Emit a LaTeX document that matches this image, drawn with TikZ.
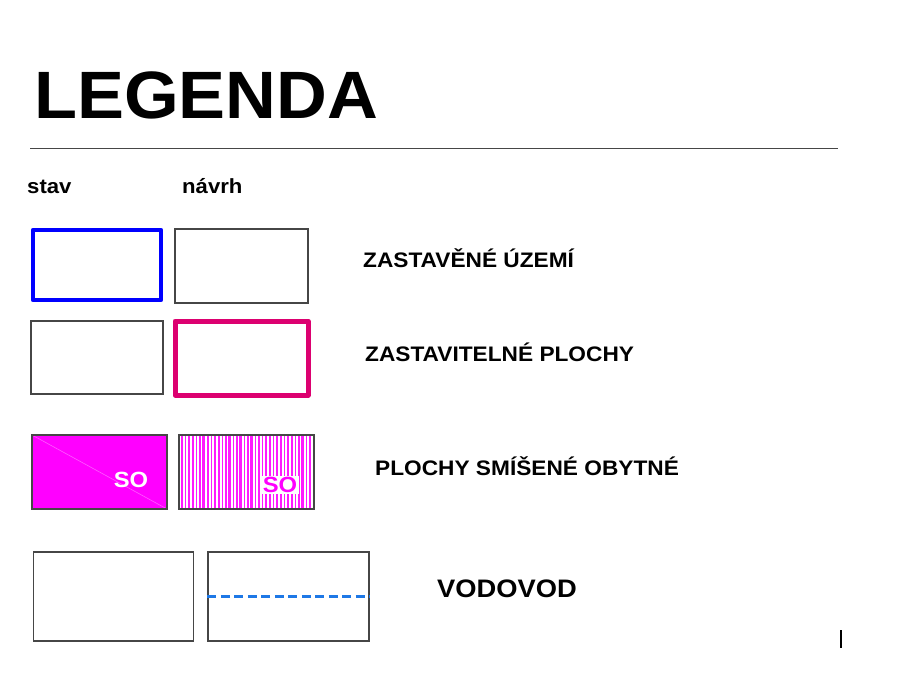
\documentclass[tikz,border=0pt]{standalone}
\usepackage{fontspec}
\setmainfont{Liberation Sans}
\newfontfamily\titlefont{Liberation Sans}[FakeStretch=1.05]
\newfontfamily\labfont{Liberation Sans}[FakeStretch=1.08]
\definecolor{boxgray}{RGB}{70,70,70}
\definecolor{zbblue}{RGB}{0,0,255}
\definecolor{zpmag}{RGB}{220,0,112}
\definecolor{somag}{RGB}{255,0,255}
\definecolor{vodblue}{RGB}{30,120,230}
\begin{document}
\begin{tikzpicture}[x=1pt,y=-1pt,
  thinbox/.style={draw=boxgray,line width=1.1pt},
  thickbox/.style={line width=4.5pt,line join=round},
  lab/.style={anchor=base west,inner sep=0pt,font=\labfont\bfseries\fontsize{21}{24}\selectfont},
  small/.style={anchor=base west,inner sep=0pt,font=\labfont\bfseries\fontsize{20.5}{23}\selectfont}]
\useasboundingbox[fill=white] (0,0) rectangle (912,682);

% title
\node[anchor=base west,inner sep=0pt,font=\titlefont\bfseries\fontsize{67}{70}\selectfont] (title) at (34,119) {LEGENDA};
\coordinate (r1) at (30,148);
\coordinate (r2) at (838,148);
\draw[draw=boxgray,line width=1pt] (r1) -- (r2);

\node[small] (stav) at (27,193) {stav};
\node[small] (navrh) at (182,193) {návrh};

% row 1
\node[thickbox,draw=zbblue,minimum width=128pt,minimum height=70pt,inner sep=0pt] (b1) at (97,265) {};
\node[thinbox,minimum width=133pt,minimum height=74pt,inner sep=0pt] (b2) at (241.5,266) {};
\node[lab] (l1) at (363,267) {ZASTAVĚNÉ ÚZEMÍ};

% row 2
\node[thinbox,minimum width=132pt,minimum height=73pt,inner sep=0pt] (b3) at (97,357.5) {};
\node[thickbox,draw=zpmag,line width=5pt,minimum width=133pt,minimum height=74pt,inner sep=0pt] (b4) at (241.5,358) {};
\node[lab] (l2) at (365,361) {ZASTAVITELNÉ PLOCHY};

% row 3 - filled
\fill[somag] (32,435) rectangle (167,509);
\draw[white,opacity=0.35,line width=0.6pt] (32,435) -- (167,509);
\draw[thinbox] (32,435) rectangle (167,509);
\node[font=\labfont\bfseries\fontsize{22}{24}\selectfont,text=white,inner sep=0pt] (so1) at (131,480) {SO};

% row 3 - hatched
\begin{scope}
\clip (179,435) rectangle (314,509);
\foreach \x/\w in {182/1.8,185.5/1.2,189/2.2,193/1.3,196.5/1.8,200/1.2,203.5/2.2,208/1.3,211.5/1.8,215/2.2,219/1.2,222.5/1.8,226/1.3,229.5/2.2,233.5/1.8,237/1.2,240.5/2.2,244.5/1.3,248/1.8,251.5/2.2,255.5/1.2,259/1.8,262.5/1.3,266/2.2,270/1.8,273.5/1.2,277/2.2,281/1.3,284.5/1.8,288/2.2,292/1.2,295.5/1.8,299/1.3,302.5/2.2,306.5/1.8,310/1.2}
  \draw[somag,opacity=0.9,line width=\w pt] (\x,435) -- (\x,509);
\end{scope}
\draw[thinbox] (179,435) rectangle (314,509);
\node[font=\labfont\bfseries\fontsize{22}{24}\selectfont,text=somag,fill=white,inner sep=1.5pt] (so2) at (280,485) {SO};
\node[lab] (l3) at (375,475) {PLOCHY SMÍŠENÉ OBYTNÉ};

% row 4
\node[thinbox,minimum width=160pt,minimum height=89pt,inner sep=0pt] (b7) at (113.5,596.5) {};
\node[thinbox,minimum width=161pt,minimum height=89pt,inner sep=0pt] (b8) at (288.5,596.5) {};
\draw[vodblue,line width=2.6pt,dash pattern=on 9pt off 4.5pt] (b8.west) -- (b8.east);
\node[anchor=base west,inner sep=0pt,font=\labfont\bfseries\fontsize{25.3}{28}\selectfont] (l4) at (437,597) {VODOVOD};

% small bar
\coordinate (t1) at (841,630);
\coordinate (t2) at (841,648);
\draw[black,line width=2pt] (t1) -- (t2);
\end{tikzpicture}
\end{document}
